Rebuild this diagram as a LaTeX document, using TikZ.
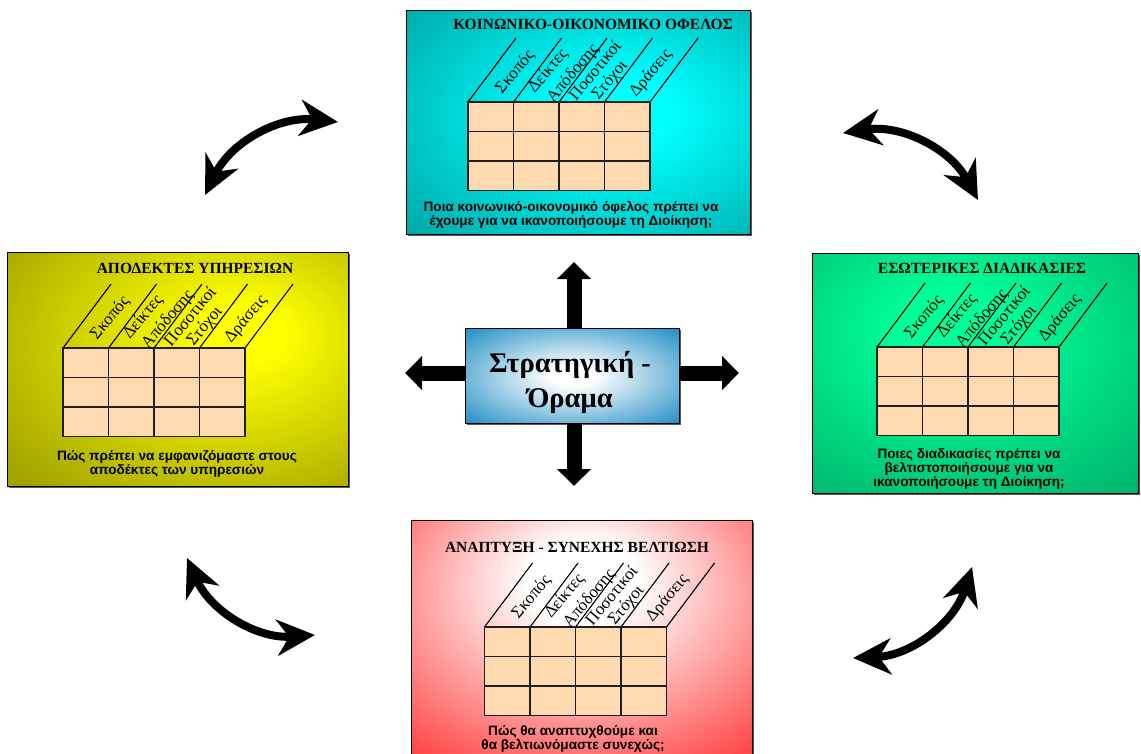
\documentclass[tikz,border=0pt]{standalone}
\usepackage{fontspec}
\setmainfont{Liberation Serif}
\newfontfamily\notesans{Liberation Sans}
\usetikzlibrary{arrows.meta,shadows}

% colours
\definecolor{peach}{HTML}{FFDAB0}
\definecolor{tealIn}{HTML}{00FFFF}
\definecolor{tealOut}{HTML}{009999}
\definecolor{olvIn}{HTML}{FFFF00}
\definecolor{olvOut}{HTML}{A3A300}
\definecolor{grnIn}{HTML}{00FF99}
\definecolor{grnOut}{HTML}{00A864}
\definecolor{redIn}{HTML}{FFFFFF}
\definecolor{redOut}{HTML}{FF4A4A}
\definecolor{bluIn}{HTML}{FFFFFF}
\definecolor{bluOut}{HTML}{1C8CC4}

% glow fills for the panels
\pgfdeclareradialshading{tealglow}{\pgfpoint{6bp}{2bp}}{color(0bp)=(tealIn); color(8bp)=(tealIn); color(44bp)=(tealOut); color(100bp)=(tealOut)}
\pgfdeclareradialshading{olvglow}{\pgfpoint{10bp}{8bp}}{color(0bp)=(olvIn); color(6bp)=(olvIn); color(40bp)=(olvOut); color(100bp)=(olvOut)}
\pgfdeclareradialshading{grnglow}{\pgfpoint{-4bp}{10bp}}{color(0bp)=(grnIn); color(8bp)=(grnIn); color(46bp)=(grnOut); color(100bp)=(grnOut)}
\pgfdeclareradialshading{redglow}{\pgfpoint{0bp}{14bp}}{color(0bp)=(redIn); color(8bp)=(redIn); color(38bp)=(redOut); color(100bp)=(redOut)}
\pgfdeclareradialshading{bluglow}{\pgfpointorigin}{color(0bp)=(bluIn); color(5bp)=(bluIn); color(36bp)=(bluOut); color(100bp)=(bluOut)}

\tikzset{
  panel/.style={draw=black, line width=1.3pt, rectangle, inner sep=0pt, anchor=north west,
    drop shadow={shadow xshift=1.8pt, shadow yshift=-1.8pt, fill=black!65, opacity=1}},
  cell/.style={draw=black!88, line width=1.8pt, fill=peach},
  slant/.style={draw=black, line width=1.1pt},
  collabel/.style={font=\fontsize{17}{17}\selectfont, rotate=50, inner sep=0pt},
  paneltitle/.style={font=\bfseries\fontsize{15.5}{17}\selectfont, inner sep=0pt},
  panelnote/.style={font=\notesans\bfseries\fontsize{13.6}{14}\selectfont, align=center, inner sep=0pt},
  blockarrow/.style={draw=black, line width=15pt, -{Triangle[length=17pt,width=33pt]}},
  swaparrow/.style={draw=black, line width=8pt,
    {Stealth[length=38pt,width=36pt,inset=12pt]}-{Stealth[length=38pt,width=36pt,inset=12pt]}},
}

% scorecard grid: #1 prefix for node names, (#2,#3) top-left corner of the cells
\newcommand\bscgrid[3]{%
  \begin{scope}[shift={(#2,#3)}]
    \foreach \i in {0,...,4} \draw[slant] (\i*45.5,0) -- ++(48,64);
    \foreach \i in {0,...,3} \foreach \j in {0,1,2}
      \draw[cell] (\i*45.5,-\j*29.5) rectangle ++(45.5,-29.5);
    \node[collabel] (#1-goal) at (47,30) {Σκοπός};
    \node[collabel] (#1-kpi) at (80,31) {Δείκτες};
    \node[collabel] (#1-perf) at (105,28.5) {Απόδοσης};
    \node[collabel] (#1-quant) at (126.5,32) {Ποσοτικοί};
    \node[collabel] (#1-targ) at (142,21.5) {Στόχοι};
    \node[collabel] (#1-act) at (183,28.5) {Δράσεις};
  \end{scope}}

\begin{document}
\begin{tikzpicture}[x=1pt,y=1pt]
  \useasboundingbox (0,0) rectangle (1141,-753);
  \clip (0,0) rectangle (1141,-753);

  % four perspective panels
  \node[panel, shading=tealglow, minimum width=344pt, minimum height=224pt] (social) at (406,-10) {};
  \node[panel, shading=olvglow, minimum width=341pt, minimum height=234pt] (clients) at (7,-252) {};
  \node[panel, shading=grnglow, minimum width=326pt, minimum height=240pt] (process) at (812,-253) {};
  \node[panel, shading=redglow, minimum width=341pt, minimum height=250pt] (growth) at (411,-520) {};

  % titles
  \node[paneltitle] (socialT) at (593,-24) {ΚΟΙΝΩΝΙΚΟ-ΟΙΚΟΝΟΜΙΚΟ ΟΦΕΛΟΣ};
  \node[paneltitle] (clientsT) at (195,-268) {ΑΠΟΔΕΚΤΕΣ ΥΠΗΡΕΣΙΩΝ};
  \node[paneltitle] (processT) at (982,-268) {ΕΣΩΤΕΡΙΚΕΣ ΔΙΑΔΙΚΑΣΙΕΣ};
  \node[paneltitle] (growthT) at (577,-547) {ΑΝΑΠΤΥΞΗ - ΣΥΝΕΧΗΣ ΒΕΛΤΙΩΣΗ};

  % grids
  \bscgrid{sg}{468}{-102}
  \bscgrid{cg}{63}{-348}
  \bscgrid{pg}{877}{-347}
  \bscgrid{gg}{484.5}{-627}

  % questions
  \node[panelnote] (socialQ) at (571,-214.5) {Ποια κοινωνικό-οικονομικό όφελος πρέπει να\\έχουμε για να ικανοποιήσουμε τη Διοίκηση;};
  \node[panelnote] (clientsQ) at (177,-464) {Πώς πρέπει να εμφανιζόμαστε στους\\αποδέκτες των υπηρεσιών};
  \node[panelnote, text depth=0pt] (processQ) at (969,-467.5) {Ποιες διαδικασίες πρέπει να\\βελτιστοποιήσουμε για να\\ικανοποιήσουμε τη Διοίκηση;};
  \node[panelnote] (growthQ) at (573,-738.5) {Πώς θα αναπτυχθούμε και\\θα βελτιωνόμαστε συνεχώς;};

  % central box
  \node[panel, shading=bluglow, minimum width=214pt, minimum height=95pt] (vision) at (465,-328) {};
  \node[font=\bfseries\fontsize{28.5}{35}\selectfont, align=center, inner sep=0pt] (visionT) at (570,-382) {Στρατηγική -\\Όραμα};

  % block arrows out of the central box
  \coordinate (upTip) at (574,-262);
  \coordinate (downTip) at (574,-486);
  \coordinate (rightTip) at (739,-373);
  \coordinate (leftTip) at (405,-373);
  \draw[blockarrow] (vision.north -| upTip) -- (upTip);
  \draw[blockarrow] (vision.south -| downTip) -- (downTip);
  \draw[blockarrow] (vision.east |- rightTip) -- (rightTip);
  \draw[blockarrow] (vision.west |- leftTip) -- (leftTip);

  % curved two-way arrows between the panels
  \coordinate (tlA) at (205,-195);
  \coordinate (tlB) at (338,-122);
  \coordinate (trA) at (843,-133);
  \coordinate (trB) at (978,-200);
  \coordinate (brA) at (972,-567);
  \coordinate (brB) at (853,-658);
  \coordinate (blA) at (315,-635);
  \coordinate (blB) at (187,-558);
  \draw[swaparrow] (tlA) to[bend left=35] (tlB);
  \draw[swaparrow] (trA) to[bend left=35] (trB);
  \draw[swaparrow] (brA) to[bend left=35] (brB);
  \draw[swaparrow] (blA) to[bend left=35] (blB);
\end{tikzpicture}
\end{document}
